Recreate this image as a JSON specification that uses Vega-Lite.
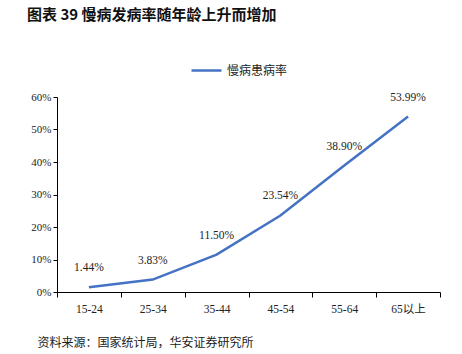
{
  "$schema": "https://vega.github.io/schema/vega-lite/v6.json",
  "width": 383,
  "height": 195,
  "autosize": {"type": "none"},
  "padding": {"left": 57, "top": 97, "right": 22, "bottom": 62},
  "background": "white",
  "title": {
    "text": "图表 39  慢病发病率随年龄上升而增加",
    "anchor": "start",
    "frame": "group",
    "orient": "top",
    "font": "Noto Sans CJK SC",
    "fontSize": 15,
    "fontWeight": "bold",
    "color": "#111111",
    "dx": -30,
    "dy": -27
  },
  "data": {
    "values": [
      {"age": "15-24", "rate": 1.44, "label": "1.44%", "series": "慢病患病率"},
      {"age": "25-34", "rate": 3.83, "label": "3.83%", "series": "慢病患病率"},
      {"age": "35-44", "rate": 11.50, "label": "11.50%", "series": "慢病患病率"},
      {"age": "45-54", "rate": 23.54, "label": "23.54%", "series": "慢病患病率"},
      {"age": "55-64", "rate": 38.90, "label": "38.90%", "series": "慢病患病率"},
      {"age": "65以上", "rate": 53.99, "label": "53.99%", "series": "慢病患病率"}
    ]
  },
  "encoding": {
    "x": {
      "field": "age",
      "type": "nominal",
      "sort": null,
      "scale": {"paddingInner": 0, "paddingOuter": 0},
      "axis": {
        "title": "资料来源：国家统计局，华安证券研究所",
        "titleAnchor": "start",
        "titleX": -20,
        "titleY": 50,
        "titleBaseline": "middle",
        "titleFont": "Noto Sans CJK SC",
        "titleFontSize": 12,
        "titleFontWeight": "normal",
        "titleColor": "#222222",
        "labelAngle": 0,
        "labelFont": "Liberation Serif, Noto Sans CJK SC",
        "labelFontSize": 11.5,
        "labelColor": "#222222",
        "labelPadding": 6,
        "tickBand": "extent",
        "tickColor": "#000000",
        "domainColor": "#000000",
        "tickSize": 5,
        "grid": false
      }
    },
    "y": {
      "field": "rate",
      "type": "quantitative",
      "scale": {"domain": [0, 60]},
      "axis": {
        "title": null,
        "values": [0, 10, 20, 30, 40, 50, 60],
        "labelExpr": "datum.value + '%'",
        "labelFont": "Liberation Serif",
        "labelFontSize": 11,
        "labelColor": "#222222",
        "tickColor": "#000000",
        "domainColor": "#000000",
        "tickSize": 4,
        "grid": false
      }
    }
  },
  "layer": [
    {
      "mark": {"type": "line", "strokeWidth": 2.5},
      "encoding": {
        "color": {
          "field": "series",
          "type": "nominal",
          "scale": {"range": ["#4472C4"]},
          "legend": {
            "title": null,
            "orient": "none",
            "legendX": 133,
            "legendY": -43,
            "symbolType": "stroke",
            "symbolStrokeWidth": 2.5,
            "symbolSize": 900,
            "labelFont": "Noto Sans CJK SC",
            "labelFontSize": 12,
            "labelColor": "#222222"
          }
        }
      }
    },
    {
      "mark": {"type": "text", "dy": -19, "font": "Liberation Serif", "fontSize": 11.5, "color": "#222222"},
      "encoding": {"text": {"field": "label"}}
    }
  ],
  "config": {"view": {"stroke": null}}
}
